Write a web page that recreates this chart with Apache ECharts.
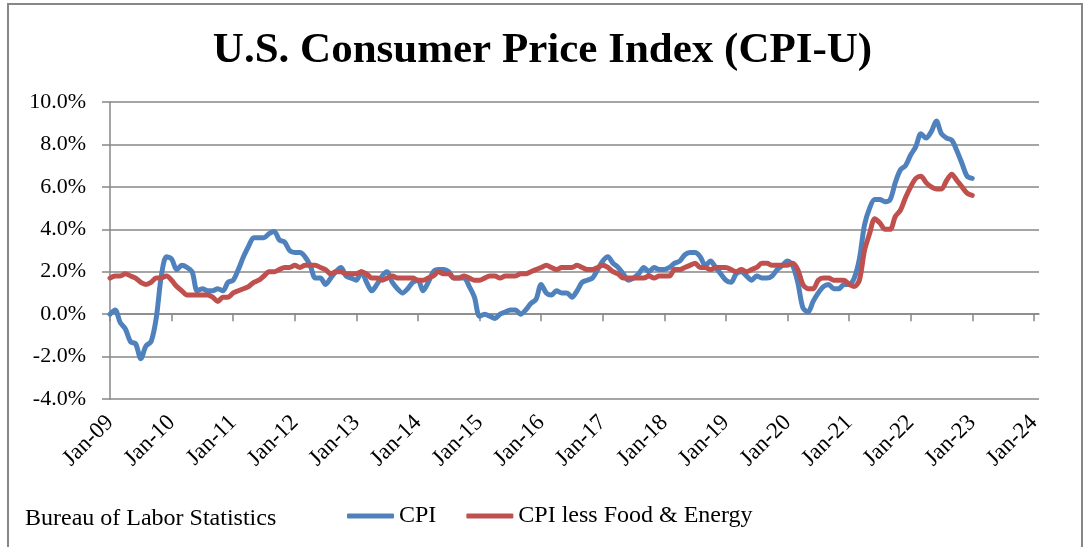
<!DOCTYPE html>
<html>
<head>
<meta charset="utf-8">
<title>U.S. Consumer Price Index (CPI-U)</title>
<script src="https://cdn.jsdelivr.net/npm/echarts@6/dist/echarts.min.js"></script>
<style>
  html, body { margin: 0; padding: 0; background: #fff; }
  #chart { width: 1085px; height: 547px; }
</style>
</head>
<body>
<div id="chart"></div>
<script>
// monthly year-over-year change, Jan 2009 .. Jan 2023
const startYear = 2009;
const yearTicks = [0, 12, 24, 36, 48, 60, 72, 84, 96, 108, 120, 132, 144, 156, 168, 180];

const cpi = [
  0.0, 0.2, -0.4, -0.7, -1.3, -1.4, -2.1, -1.5, -1.3, -0.2, 1.8, 2.7,
  2.6, 2.1, 2.3, 2.2, 2.0, 1.1, 1.2, 1.1, 1.1, 1.2, 1.1, 1.5,
  1.6, 2.1, 2.7, 3.2, 3.6, 3.6, 3.6, 3.8, 3.9, 3.5, 3.4, 3.0,
  2.9, 2.9, 2.7, 2.3, 1.7, 1.7, 1.4, 1.7, 2.0, 2.2, 1.8, 1.7,
  1.6, 2.0, 1.5, 1.1, 1.4, 1.8, 2.0, 1.5, 1.2, 1.0, 1.2, 1.5,
  1.6, 1.1, 1.5, 2.0, 2.1, 2.1, 2.0, 1.7, 1.7, 1.7, 1.3, 0.8,
  -0.1, 0.0, -0.1, -0.2, 0.0, 0.1, 0.2, 0.2, 0.0, 0.2, 0.5, 0.7,
  1.4, 1.0, 0.9, 1.1, 1.0, 1.0, 0.8, 1.1, 1.5, 1.6, 1.7, 2.1,
  2.5, 2.7, 2.4, 2.2, 1.9, 1.6, 1.7, 1.9, 2.2, 2.0, 2.2, 2.1,
  2.1, 2.2, 2.4, 2.5, 2.8, 2.9, 2.9, 2.7, 2.3, 2.5, 2.2, 1.9,
  1.6, 1.5, 1.9, 2.0, 1.8, 1.6, 1.8, 1.7, 1.7, 1.8, 2.1, 2.3,
  2.5, 2.3, 1.5, 0.3, 0.1, 0.6, 1.0, 1.3, 1.4, 1.2, 1.2, 1.4,
  1.4, 1.7, 2.6, 4.2, 5.0, 5.4, 5.4, 5.3, 5.4, 6.2, 6.8, 7.0,
  7.5, 7.9, 8.5, 8.3, 8.6, 9.1, 8.5, 8.3, 8.2, 7.7, 7.1, 6.5,
  6.4
];

const core = [
  1.7, 1.8, 1.8, 1.9, 1.8, 1.7, 1.5, 1.4, 1.5, 1.7, 1.7, 1.8,
  1.6, 1.3, 1.1, 0.9, 0.9, 0.9, 0.9, 0.9, 0.8, 0.6, 0.8, 0.8,
  1.0, 1.1, 1.2, 1.3, 1.5, 1.6, 1.8, 2.0, 2.0, 2.1, 2.2, 2.2,
  2.3, 2.2, 2.3, 2.3, 2.3, 2.2, 2.1, 1.9, 2.0, 2.0, 1.9, 1.9,
  1.9, 2.0, 1.9, 1.7, 1.7, 1.6, 1.7, 1.8, 1.7, 1.7, 1.7, 1.7,
  1.6, 1.6, 1.7, 1.8, 2.0, 1.9, 1.9, 1.7, 1.7, 1.8, 1.7, 1.6,
  1.6, 1.7, 1.8, 1.8, 1.7, 1.8, 1.8, 1.8, 1.9, 1.9, 2.0, 2.1,
  2.2, 2.3, 2.2, 2.1, 2.2, 2.2, 2.2, 2.3, 2.2, 2.1, 2.1, 2.2,
  2.3, 2.2, 2.0, 1.9, 1.7, 1.7, 1.7, 1.7, 1.7, 1.8, 1.7, 1.8,
  1.8, 1.8, 2.1, 2.1, 2.2, 2.3, 2.4, 2.2, 2.2, 2.1, 2.2, 2.2,
  2.2, 2.1, 2.0, 2.1, 2.0, 2.1, 2.2, 2.4, 2.4, 2.3, 2.3, 2.3,
  2.3, 2.4, 2.1, 1.4, 1.2, 1.2, 1.6, 1.7, 1.7, 1.6, 1.6, 1.6,
  1.4, 1.3, 1.6, 3.0, 3.8, 4.5, 4.3, 4.0, 4.0, 4.6, 4.9, 5.5,
  6.0, 6.4, 6.5, 6.2, 6.0, 5.9, 5.9, 6.3, 6.6, 6.3, 6.0, 5.7,
  5.6
];

const font = "'Liberation Serif', 'Times New Roman', serif";
const grey = '#878787';

const monthLabel = v => 'Jan-' + String((startYear + v / 12) % 100).padStart(2, '0');
const toPairs = arr => arr.map((v, i) => [i, v]);

const chart = echarts.init(document.getElementById('chart'));

chart.setOption({
  animation: false,
  backgroundColor: '#fff',
  title: {
    text: 'U.S. Consumer Price Index (CPI-U)',
    left: 'center',
    top: 24,
    textStyle: { fontFamily: font, fontSize: 43, fontWeight: 'bold', color: '#000' }
  },
  legend: {
    left: 342,
    top: 499,
    icon: 'roundRect',
    itemWidth: 47,
    itemHeight: 5,
    itemGap: 30,
    textStyle: { fontFamily: font, fontSize: 24, color: '#000' },
    data: ['CPI', 'CPI less Food & Energy']
  },
  graphic: [
    {
      type: 'rect',
      shape: { x: 8, y: 4, width: 1074, height: 600 },
      style: { fill: 'none', stroke: grey, lineWidth: 2 },
      silent: true
    },
    {
      type: 'text',
      left: 25,
      top: 507,
      style: { text: 'Bureau of Labor Statistics', font: '24px ' + font, fill: '#000' }
    }
  ],
  grid: { left: 110, right: 46, top: 102, bottom: 148 },
  xAxis: [
    {
      type: 'value',
      min: 0,
      max: 181,
      axisLine: { onZero: true, lineStyle: { color: grey, width: 1.5 } },
      axisTick: { show: true, length: 7, customValues: yearTicks, lineStyle: { color: grey, width: 1.5 } },
      axisLabel: { show: false },
      splitLine: { show: false }
    },
    {
      type: 'value',
      min: 0,
      max: 181,
      position: 'bottom',
      axisLine: { show: false },
      axisTick: { show: false },
      splitLine: { show: false },
      axisLabel: {
        customValues: yearTicks,
        formatter: monthLabel,
        rotate: 45,
        margin: 20,
        fontFamily: font,
        fontSize: 23,
        color: '#000'
      }
    }
  ],
  yAxis: {
    type: 'value',
    min: -4,
    max: 10,
    interval: 2,
    axisLine: { show: true, lineStyle: { color: grey, width: 1.5 } },
    axisTick: { show: true, length: 8, lineStyle: { color: grey, width: 1.5 } },
    axisLabel: {
      formatter: v => v.toFixed(1) + '%',
      margin: 24,
      fontFamily: font,
      fontSize: 22,
      color: '#000'
    },
    splitLine: { show: true, lineStyle: { color: grey, width: 1.5 } }
  },
  series: [
    {
      name: 'CPI',
      type: 'line',
      xAxisIndex: 0,
      data: toPairs(cpi),
      symbol: 'none',
      smooth: 0.3,
      lineStyle: { color: '#4F81BD', width: 5, cap: 'round', join: 'round' },
      itemStyle: { color: '#4F81BD' },
      z: 3
    },
    {
      name: 'CPI less Food & Energy',
      type: 'line',
      xAxisIndex: 0,
      data: toPairs(core),
      symbol: 'none',
      smooth: 0.3,
      lineStyle: { color: '#C0504D', width: 5, cap: 'round', join: 'round' },
      itemStyle: { color: '#C0504D' },
      z: 4
    }
  ]
});
</script>
</body>
</html>
